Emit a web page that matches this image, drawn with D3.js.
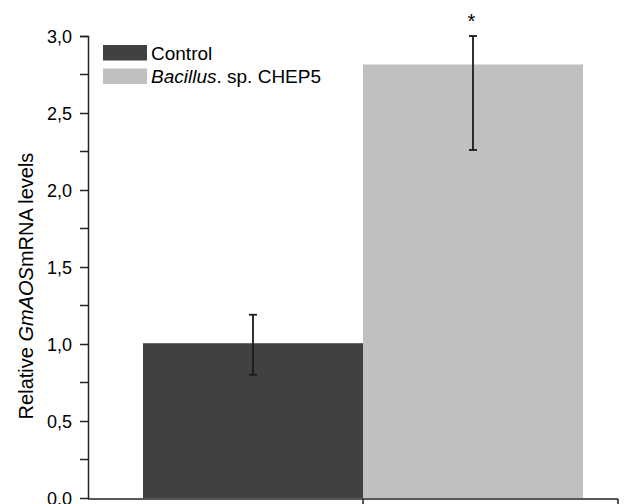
<!DOCTYPE html>
<html><head><meta charset="utf-8">
<script src="https://cdn.jsdelivr.net/npm/d3@7"></script>
<style>body{margin:0;background:#fff}svg{display:block}text{font-family:"Liberation Sans",Arial,sans-serif;fill:#000}</style>
</head><body>
<svg id="c" width="638" height="504"></svg>
<script>
const categories = ["Control", "Bacillus. sp. CHEP5"];
const values = [1.005, 2.815];
const errLow = [0.80, 2.26];
const errHigh = [1.19, 3.0];
const signif = ["", "*"];
const yTicks = [0, 0.5, 1.0, 1.5, 2.0, 2.5, 3.0];
const colors = ["#414141", "#c0c0c0"];

const svg = d3.select("#c");
const y = d3.scaleLinear().domain([0, 3]).range([498, 36]);
const x = d3.scaleBand().domain(categories).range([88, 638]).paddingInner(0).paddingOuter(0.25);

// bars
svg.selectAll("rect.bar").data(categories).enter().append("rect")
  .attr("x", d => x(d)).attr("width", x.bandwidth())
  .attr("y", (d,i) => y(values[i])).attr("height", (d,i) => y(0) - y(values[i]))
  .attr("fill", (d,i) => colors[i]);

// error bars
const eb = svg.append("g").attr("stroke", "#1a1a1a").attr("stroke-width", 1.8);
categories.forEach((d,i) => {
  const cx = x(d) + x.bandwidth()/2;
  eb.append("line").attr("x1", cx).attr("x2", cx).attr("y1", y(errLow[i])).attr("y2", y(errHigh[i]));
  eb.append("line").attr("x1", cx-4).attr("x2", cx+4).attr("y1", y(errLow[i])).attr("y2", y(errLow[i]));
  eb.append("line").attr("x1", cx-4).attr("x2", cx+4).attr("y1", y(errHigh[i])).attr("y2", y(errHigh[i]));
  if (signif[i]) svg.append("text").attr("x", cx-1.5).attr("y", 28).attr("text-anchor","middle")
     .attr("font-size", 20).text(signif[i]);
});

// y axis
const yAxis = svg.append("g").attr("transform", "translate(88,0)")
  .call(d3.axisLeft(y).tickValues(yTicks).tickSize(8).tickPadding(8).tickFormat(d => d3.format(".1f")(d).replace(".", ",")));
yAxis.select(".domain").attr("d", "M-8,36.5H0.5V499").attr("stroke", "#222").attr("stroke-width", 1.5);
yAxis.selectAll(".tick line").attr("stroke", "#222").attr("stroke-width", 1.5);
yAxis.selectAll(".tick text").attr("font-size", 18).attr("font-family", "Liberation Sans, Arial, sans-serif").attr("dy", "0.35em");
const minor = d3.range(0.25, 3, 0.5);
yAxis.selectAll(".minor").data(minor).enter().append("line")
  .attr("x1", -8).attr("x2", 0).attr("y1", d => y(d)).attr("y2", d => y(d))
  .attr("stroke", "#222").attr("stroke-width", 1.5);

// x axis
const xg = svg.append("g");
xg.append("line").attr("x1", 88).attr("x2", 618).attr("y1", 499).attr("y2", 499).attr("stroke", "#222").attr("stroke-width", 1.5);
[x(categories[1]), 618].forEach(t => xg.append("line").attr("x1", t).attr("x2", t).attr("y1", 499).attr("y2", 506).attr("stroke", "#222").attr("stroke-width", 1.5));

// y label
const yl = svg.append("text").attr("transform", "translate(33,286) rotate(-90)").attr("text-anchor", "middle").attr("font-size", 20);
yl.append("tspan").text("Relative ");
yl.append("tspan").attr("font-style", "italic").text("GmAOS");
yl.append("tspan").text("mRNA levels");

// legend
const lg = svg.append("g");
categories.forEach((d,i) => {
  const yy = 45 + i*23.5;
  lg.append("rect").attr("x", 103).attr("y", yy).attr("width", 44).attr("height", 15.5).attr("fill", colors[i]);
  const t = lg.append("text").attr("x", 151).attr("y", yy + 14.5).attr("font-size", 19);
  if (i === 1) { t.append("tspan").attr("font-style","italic").text("Bacillus"); t.append("tspan").text(". sp. CHEP5"); }
  else t.text(d);
});
</script>
</body></html>
